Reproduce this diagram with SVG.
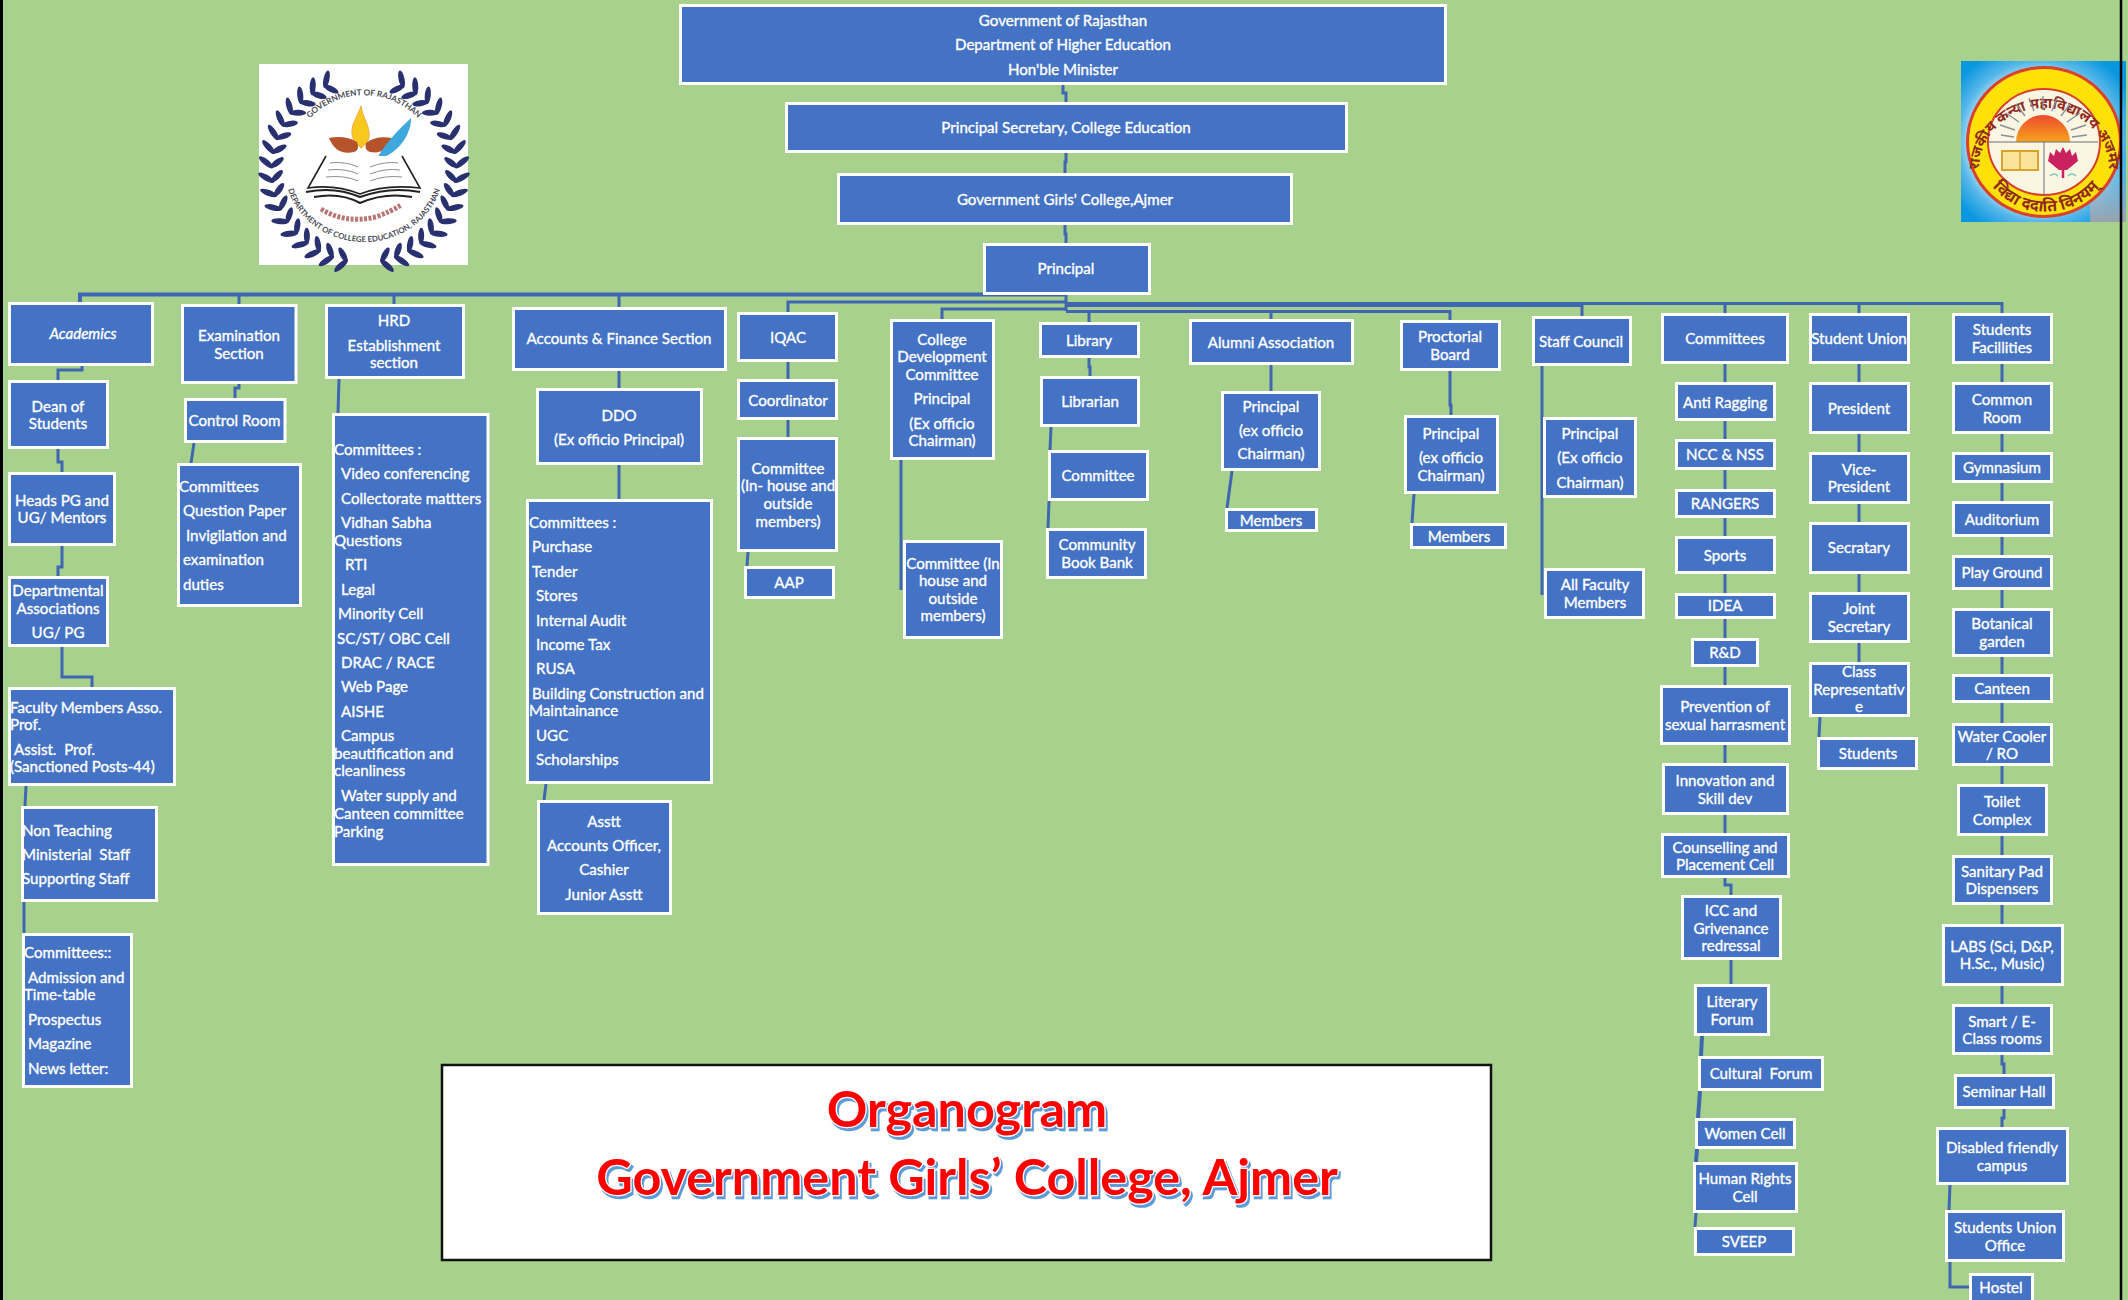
<svg xmlns="http://www.w3.org/2000/svg" width="2128" height="1300" viewBox="0 0 2128 1300">
<style>
.n rect{fill:#4472C4;stroke:#fff;stroke-width:3}
text{font-family:Lato,"Noto Sans","Liberation Sans",sans-serif}
.n text{fill:#fff;font-size:15.1px;stroke:#fff;stroke-width:.35;white-space:pre;transform:translateY(.6px)}
.c text{text-anchor:middle}
#connectors path{fill:none;stroke:#3F67B1;stroke-width:3}
.title{font-size:50.300px;font-weight:700;fill:#f00;stroke:#fff;stroke-width:2.5;paint-order:stroke;text-anchor:middle;filter:url(#sh)}
.hi{font-family:"Noto Sans","Noto Sans CJK SC",sans-serif;font-weight:700;fill:#8f2a1e}
</style>
<defs>
<filter id="sh" x="-5%" y="-20%" width="110%" height="140%"><feDropShadow dx="2" dy="3" stdDeviation="0.4" flood-color="#5B9BD5"/></filter>
<radialGradient id="sky" cx="48%" cy="50%" r="62%"><stop offset="0.62" stop-color="#DDF1FA"/><stop offset="0.8" stop-color="#57B7E9"/><stop offset="1" stop-color="#0A97E0"/></radialGradient>
<linearGradient id="sun" x1="0" y1="0" x2="0" y2="1"><stop offset="0" stop-color="#EE4A2E"/><stop offset="1" stop-color="#F7A31E"/></linearGradient>
<linearGradient id="cloud" x1="0" y1="0" x2="0" y2="1"><stop offset="0" stop-color="#D8DDE4" stop-opacity="0"/><stop offset="1" stop-color="#9AA2AE"/></linearGradient>
<g id="lf"><ellipse cx="-6" cy="-98" rx="9" ry="3" fill="#28306F" transform="rotate(52 -6 -98)"/><ellipse cx="-6" cy="-87" rx="8" ry="3" fill="#28306F" transform="rotate(-52 -6 -87)"/></g>
<g id="lg"><ellipse cx="6" cy="-98" rx="9" ry="3" fill="#28306F" transform="rotate(-52 6 -98)"/><ellipse cx="6" cy="-87" rx="8" ry="3" fill="#28306F" transform="rotate(52 6 -87)"/></g>
<path id="arcTop" d="M302 128A75 75 0 0 1 426 128"/>
<path id="arcBot" d="M285 170A79 72 0 0 0 443 170"/>
<path id="ringTop" d="M1979 170A65 62 0 1 1 2109 170"/>
<path id="ringBot" d="M1992 186A66 60 0 0 0 2100 186"/>
</defs>
<rect width="2128" height="1300" fill="#A9D18E"/>

<g id="logo-left">
<rect x="259" y="64" width="209" height="201" fill="#fff"/>
<g transform="translate(364 170)">
<use href="#lf" transform="rotate(26)"/><use href="#lf" transform="rotate(35)"/><use href="#lf" transform="rotate(44)"/><use href="#lf" transform="rotate(53)"/><use href="#lf" transform="rotate(62)"/><use href="#lf" transform="rotate(71)"/><use href="#lf" transform="rotate(80)"/><use href="#lf" transform="rotate(89)"/><use href="#lf" transform="rotate(98)"/><use href="#lf" transform="rotate(107)"/><use href="#lf" transform="rotate(116)"/><use href="#lf" transform="rotate(125)"/><use href="#lf" transform="rotate(134)"/><use href="#lf" transform="rotate(143)"/><use href="#lf" transform="rotate(152)"/><use href="#lf" transform="rotate(161)"/><use href="#lf" transform="rotate(170)"/>
<use href="#lg" transform="rotate(-26)"/><use href="#lg" transform="rotate(-35)"/><use href="#lg" transform="rotate(-44)"/><use href="#lg" transform="rotate(-53)"/><use href="#lg" transform="rotate(-62)"/><use href="#lg" transform="rotate(-71)"/><use href="#lg" transform="rotate(-80)"/><use href="#lg" transform="rotate(-89)"/><use href="#lg" transform="rotate(-98)"/><use href="#lg" transform="rotate(-107)"/><use href="#lg" transform="rotate(-116)"/><use href="#lg" transform="rotate(-125)"/><use href="#lg" transform="rotate(-134)"/><use href="#lg" transform="rotate(-143)"/><use href="#lg" transform="rotate(-152)"/><use href="#lg" transform="rotate(-161)"/><use href="#lg" transform="rotate(-170)"/>
</g>
<path d="M361 106C357 118 351 124 352 134C353 142 358 145 361 148C365 145 370 141 369 132C368 123 363 118 361 106Z" fill="#F7C91E" stroke="#F2A93B" stroke-width="1"/>
<path d="M329 138Q345 135 357 142Q360 150 354 152Q336 156 329 138Z" fill="#B5532A"/>
<path d="M392 138Q376 135 366 143Q364 150 370 152Q386 155 392 138Z" fill="#B5532A"/>
<path d="M411 118C398 130 384 145 376 160C385 158 400 150 407 135C410 128 411 124 411 118Z" fill="#3FA9DE"/>
<path d="M376 160L364 172" stroke="#3FA9DE" stroke-width="1.5" fill="none"/>
<path d="M326 156L308 188Q335 184 360 194Q385 184 420 188L402 156" fill="#fff" stroke="#222" stroke-width="1.6"/>
<path d="M306 192Q335 186 360 197Q390 186 420 192M314 197Q340 192 360 203Q385 192 412 197" fill="none" stroke="#222" stroke-width="2"/>
<path d="M330 163Q345 161 358 167M328 170Q345 168 358 174M326 177Q345 175 358 181M370 167Q385 161 398 163M370 174Q385 168 400 170M370 181Q385 175 402 177" fill="none" stroke="#8a8f95" stroke-width="1"/>
<text font-size="8.200" fill="#4a4a55" font-weight="700"><textPath href="#arcTop" startOffset="50%" text-anchor="middle">GOVERNMENT OF RAJASTHAN</textPath></text>
<text font-size="7.800" fill="#4a4a55" font-weight="700"><textPath href="#arcBot" startOffset="50%" text-anchor="middle">DEPARTMENT OF COLLEGE EDUCATION, RAJASTHAN</textPath></text>
<path d="M321 209Q345 224 376 217Q392 211 401 205" fill="none" stroke="#9a3a3a" stroke-width="5" stroke-dasharray="3 1.500" opacity=".7"/>
</g>

<g id="logo-right">
<rect x="1961" y="61" width="165" height="161" fill="url(#sky)"/>
<rect x="2090" y="160" width="36" height="62" fill="url(#cloud)"/>
<ellipse cx="2044" cy="142" rx="78" ry="76" fill="#D9412A"/>
<ellipse cx="2044" cy="142" rx="75" ry="73" fill="#FFE10A"/>
<ellipse cx="2044" cy="142" rx="56" ry="53" fill="#FBF6E2" stroke="#D9412A" stroke-width="2"/>
<text class="hi" font-size="14.500"><textPath href="#ringTop" startOffset="50%" text-anchor="middle">राजकीय कन्या महाविद्यालय अजमेर</textPath></text>
<text class="hi" font-size="16"><textPath href="#ringBot" startOffset="50%" text-anchor="middle">विद्या ददाति विनयम्</textPath></text>
<path d="M2016 142A27 27 0 0 1 2070 142Z" fill="url(#sun)"/>
<path d="M2043 110V96M2034 111L2029 98M2052 111L2057 98M2025 116L2016 104M2061 116L2070 104M2019 122L2006 113M2067 122L2080 113M2015 130L2000 125M2071 130L2086 125M2014 137L2001 135M2072 137L2087 135" fill="none" stroke="#8a8f9a" stroke-width="1.400"/>
<path d="M1989 142H2098M2044 142V195" fill="none" stroke="#6a6f7a" stroke-width="1"/>
<path d="M2002 151H2038V170H2002Z" fill="#FBE49A" stroke="#D9A32A" stroke-width="2"/><path d="M2020 151V170" stroke="#D9A32A" stroke-width="1.500"/>
<path d="M2059 170L2048 161L2050 152L2054 156L2056 149L2060 153L2063 147L2066 153L2070 149L2072 156L2076 152L2078 161L2067 170Z" fill="#C9205E"/>
<path d="M2063 170V178" stroke="#C9205E" stroke-width="2.500"/>
<path d="M2050 176Q2054 172 2058 176M2068 176Q2072 172 2076 176" fill="none" stroke="#7FC8C0" stroke-width="1.500"/>
</g>

<g id="connectors">
<path d="M1063 85V93H1066V102M1066 153V162H1065V173M1065 225V234H1066V243"/>
<path d="M1066 294.500H80V302" style="stroke-width:4"/>
<path d="M239 294.500V304M394 294.500V304M619 294.500V307"/>
<path d="M1066 295V311"/>
<path d="M1066 302H788V312"/>
<path d="M1066 309H942V319"/>
<path d="M1066 304.500H1582" style="stroke-width:5"/>
<path d="M1582 303.500H2002V313M1582 303V316M1725 303V313M1859 303V313"/>
<path d="M1066 311.500H1450V320M1089 311.500V322M1271 311.500V319"/>
<path d="M82 366V370H58V380M239 384V388H235V398M339 379L338 413M619 371V388M619 465V499"/>
<path d="M58 449V462H62V472M62 546V567H58V576M62 647V677H92V687M26 786L25 806M24 902V933M194 443L191 463M546 784L544 800"/>
<path d="M788 362V379M788 420V437M748 552L747 566M901 460V590"/>
<path d="M1089 358V367H1090V376M1051 427L1050 450M1049 501L1048 528M1271 365V391M1232 471L1227 508M1450 371V405H1451V415M1414 494L1412 523M1542 366V595"/>
<path d="M1725 364V382M1725 421V439M1725 470V489M1725 518V536M1725 574V593M1725 619V638M1725 667V685M1725 745V763M1725 815V833M1725 878V885H1731V895M1731 960V984"/>
<path d="M1702 1036L1701 1056M1700 1091L1698 1118M1697 1149L1696 1162" style="stroke-width:4"/>
<path d="M1696 1213L1695 1227"/>
<path d="M1859 364V382M1859 434V452M1859 504V522M1859 574V592M1859 643V662M1820 717L1819 737"/>
<path d="M2002 364V382M2002 434V452M2002 483V501M2002 537V555M2002 590V608M2002 657V674M2002 703V723M2002 766V784M2002 836V855M2002 905V924M2002 986V1004M2002 1055V1064H2004V1074M2004 1109V1118H2002V1127M1950 1185L1949 1210M1950 1262V1287H1969"/>
</g>

<g id="top" class="n c"><rect x="680.500" y="5.500" width="765" height="78"/><text x="1063" y="25">Government of Rajasthan</text><text x="1063" y="49">Department of Higher Education</text><text x="1063" y="74">Hon'ble Minister</text></g>
<g id="psec" class="n c"><rect x="786.500" y="103.500" width="560" height="48"/><text x="1066" y="132">Principal Secretary, College Education</text></g>
<g id="ggc" class="n c"><rect x="838.500" y="174.500" width="453" height="49"/><text x="1065" y="204">Government Girls' College,Ajmer</text></g>
<g id="principal" class="n c"><rect x="984.500" y="244.500" width="165" height="49"/><text x="1066" y="273">Principal</text></g>

<g id="academics" class="n c"><rect x="9.500" y="303.500" width="143" height="61"/><text x="83" y="338" font-style="italic">Academics</text></g>
<g id="exam" class="n c"><rect x="182.500" y="305.500" width="113.500" height="77"/><text><tspan x="239" y="340">Examination</tspan><tspan x="239" y="358">Section</tspan></text></g>
<g id="hrd" class="n c"><rect x="326.500" y="305.500" width="137" height="72"/><text><tspan x="394" y="325">HRD</tspan><tspan x="394" y="350">Establishment</tspan><tspan x="394" y="367">section</tspan></text></g>
<g id="accounts" class="n c"><rect x="513.500" y="308.500" width="212" height="61"/><text x="619" y="343">Accounts &amp; Finance Section</text></g>
<g id="iqac" class="n c"><rect x="738.500" y="313.500" width="98" height="47"/><text x="788" y="342">IQAC</text></g>
<g id="cdc" class="n c"><rect x="891.500" y="320.500" width="102" height="138"/><text><tspan x="942" y="344">College</tspan><tspan x="942" y="361">Development</tspan><tspan x="942" y="379">Committee</tspan><tspan x="942" y="403">Principal</tspan><tspan x="942" y="428">(Ex officio</tspan><tspan x="942" y="445">Chairman)</tspan></text></g>
<g id="library" class="n c"><rect x="1040.500" y="323.500" width="98" height="33"/><text x="1089" y="345">Library</text></g>
<g id="alumni" class="n c"><rect x="1190.500" y="320.500" width="162" height="43"/><text x="1271" y="347">Alumni Association</text></g>
<g id="proctorial" class="n c"><rect x="1401.500" y="321.500" width="98" height="48"/><text><tspan x="1450" y="341">Proctorial</tspan><tspan x="1450" y="359">Board</tspan></text></g>
<g id="staff" class="n c"><rect x="1533.500" y="317.500" width="97" height="47"/><text x="1581" y="346">Staff Council</text></g>
<g id="committees" class="n c"><rect x="1662.500" y="314.500" width="125" height="48"/><text x="1725" y="343">Committees</text></g>
<g id="union" class="n c"><rect x="1810.500" y="314.500" width="98" height="48"/><text x="1859" y="343">Student Union</text></g>
<g id="facilities" class="n c"><rect x="1953.500" y="314.500" width="98" height="48"/><text><tspan x="2002" y="334">Students</tspan><tspan x="2002" y="352">Facillities</tspan></text></g>

<g id="dean" class="n c"><rect x="9.500" y="381.500" width="98" height="66"/><text><tspan x="58" y="411">Dean of</tspan><tspan x="58" y="428">Students</tspan></text></g>
<g id="heads" class="n c"><rect x="9.500" y="473.500" width="105" height="71"/><text><tspan x="62" y="505">Heads PG and</tspan><tspan x="62" y="522">UG/ Mentors</tspan></text></g>
<g id="dept" class="n c"><rect x="9.500" y="577.500" width="98" height="68"/><text><tspan x="58" y="595">Departmental</tspan><tspan x="58" y="613">Associations</tspan><tspan x="58" y="637">UG/ PG</tspan></text></g>
<g id="faculty" class="n"><rect x="9.500" y="688.500" width="165" height="96"/><text><tspan x="10" y="712">Faculty Members Asso.</tspan><tspan x="10" y="729">Prof.</tspan><tspan x="14" y="754">Assist.  Prof.</tspan><tspan x="10" y="771">(Sanctioned Posts-44)</tspan></text></g>
<g id="nonteaching" class="n"><rect x="22.500" y="807.500" width="134" height="93"/><text><tspan x="22" y="835">Non Teaching</tspan><tspan x="22" y="859">Ministerial  Staff</tspan><tspan x="22" y="883">Supporting Staff</tspan></text></g>
<g id="acad-committees" class="n"><rect x="23.500" y="934.500" width="108" height="152"/><text><tspan x="24" y="957">Committees::</tspan><tspan x="28" y="982">Admission and</tspan><tspan x="24" y="999">Time-table</tspan><tspan x="28" y="1024">Prospectus</tspan><tspan x="28" y="1048">Magazine</tspan><tspan x="28" y="1073">News letter:</tspan></text></g>

<g id="control" class="n c"><rect x="185.500" y="399.500" width="99.500" height="42"/><text x="234.500" y="425">Control Room</text></g>
<g id="exam-committees" class="n"><rect x="178.500" y="464.500" width="122" height="141"/><text><tspan x="179" y="491">Committees</tspan><tspan x="183" y="515">Question Paper</tspan><tspan x="186" y="540">Invigilation and</tspan><tspan x="183" y="564">examination</tspan><tspan x="183" y="589">duties</tspan></text></g>

<g id="hrd-committees" class="n"><rect x="333.500" y="414.500" width="154.500" height="450"/><text><tspan x="334" y="454">Committees :</tspan><tspan x="341" y="478">Video conferencing</tspan><tspan x="341" y="503">Collectorate mattters</tspan><tspan x="341" y="527">Vidhan Sabha</tspan><tspan x="334" y="545">Questions</tspan><tspan x="345" y="569">RTI</tspan><tspan x="341" y="594">Legal</tspan><tspan x="338" y="618">Minority Cell</tspan><tspan x="337" y="643">SC/ST/ OBC Cell</tspan><tspan x="341" y="667">DRAC / RACE</tspan><tspan x="341" y="691">Web Page</tspan><tspan x="341" y="716">AISHE</tspan><tspan x="341" y="740">Campus</tspan><tspan x="334" y="758">beautification and</tspan><tspan x="334" y="775">cleanliness</tspan><tspan x="341" y="800">Water supply and</tspan><tspan x="334" y="818">Canteen committee</tspan><tspan x="334" y="836">Parking</tspan></text></g>

<g id="ddo" class="n c"><rect x="537.500" y="389.500" width="164" height="74"/><text><tspan x="619" y="420">DDO</tspan><tspan x="619" y="444">(Ex officio Principal)</tspan></text></g>
<g id="acc-committees" class="n"><rect x="527.500" y="500.500" width="184" height="282"/><text><tspan x="529" y="527">Committees :</tspan><tspan x="532" y="551">Purchase</tspan><tspan x="532" y="576">Tender</tspan><tspan x="536" y="600">Stores</tspan><tspan x="536" y="625">Internal Audit</tspan><tspan x="536" y="649">Income Tax</tspan><tspan x="536" y="673">RUSA</tspan><tspan x="532" y="698">Building Construction and</tspan><tspan x="529" y="715">Maintainance</tspan><tspan x="536" y="740">UGC</tspan><tspan x="536" y="764">Scholarships</tspan></text></g>
<g id="asstt" class="n c"><rect x="538.500" y="801.500" width="132" height="112"/><text><tspan x="604" y="826">Asstt</tspan><tspan x="604" y="850">Accounts Officer,</tspan><tspan x="604" y="874">Cashier</tspan><tspan x="604" y="899">Junior Asstt</tspan></text></g>

<g id="coordinator" class="n c"><rect x="738.500" y="380.500" width="98" height="38"/><text x="788" y="405">Coordinator</text></g>
<g id="iqac-committee" class="n c"><rect x="738.500" y="438.500" width="98" height="112"/><text><tspan x="788" y="473">Committee</tspan><tspan x="788" y="490">(In- house and</tspan><tspan x="788" y="508">outside</tspan><tspan x="788" y="526">members)</tspan></text></g>
<g id="aap" class="n c"><rect x="745.500" y="567.500" width="88" height="30"/><text x="789" y="587">AAP</text></g>
<g id="cdc-committee" class="n c"><rect x="904.500" y="541.500" width="97" height="96"/><text><tspan x="953" y="568">Committee (In</tspan><tspan x="953" y="585">house and</tspan><tspan x="953" y="603">outside</tspan><tspan x="953" y="620">members)</tspan></text></g>

<g id="librarian" class="n c"><rect x="1041.500" y="377.500" width="97" height="48"/><text x="1090" y="406">Librarian</text></g>
<g id="lib-committee" class="n c"><rect x="1049.500" y="451.500" width="98" height="48"/><text x="1098" y="480">Committee</text></g>
<g id="bookbank" class="n c"><rect x="1047.500" y="529.500" width="98" height="48"/><text><tspan x="1097" y="549">Community</tspan><tspan x="1097" y="567">Book Bank</tspan></text></g>
<g id="alumni-principal" class="n c"><rect x="1222.500" y="392.500" width="97" height="77"/><text><tspan x="1271" y="411">Principal</tspan><tspan x="1271" y="435">(ex officio</tspan><tspan x="1271" y="458">Chairman)</tspan></text></g>
<g id="alumni-members" class="n c"><rect x="1226.500" y="509.500" width="90" height="21"/><text x="1271" y="525">Members</text></g>
<g id="proc-principal" class="n c"><rect x="1405.500" y="416.500" width="92" height="76"/><text><tspan x="1451" y="438">Principal</tspan><tspan x="1451" y="462">(ex officio</tspan><tspan x="1451" y="480">Chairman)</tspan></text></g>
<g id="proc-members" class="n c"><rect x="1411.500" y="524.500" width="94" height="23"/><text x="1459" y="541">Members</text></g>
<g id="staff-principal" class="n c"><rect x="1544.500" y="418.500" width="91" height="78"/><text><tspan x="1590" y="438">Principal</tspan><tspan x="1590" y="462">(Ex officio</tspan><tspan x="1590" y="487">Chairman)</tspan></text></g>
<g id="all-faculty" class="n c"><rect x="1545.500" y="569.500" width="98" height="48"/><text><tspan x="1595" y="589">All Faculty</tspan><tspan x="1595" y="607">Members</tspan></text></g>

<g id="anti" class="n c"><rect x="1676.500" y="383.500" width="98" height="36"/><text x="1725" y="407">Anti Ragging</text></g>
<g id="ncc" class="n c"><rect x="1676.500" y="440.500" width="98" height="28"/><text x="1725" y="459">NCC &amp; NSS</text></g>
<g id="rangers" class="n c"><rect x="1676.500" y="490.500" width="98" height="26"/><text x="1725" y="508">RANGERS</text></g>
<g id="sports" class="n c"><rect x="1676.500" y="537.500" width="98" height="35"/><text x="1725" y="560">Sports</text></g>
<g id="idea" class="n c"><rect x="1676.500" y="594.500" width="98" height="23"/><text x="1725" y="610">IDEA</text></g>
<g id="rd" class="n c"><rect x="1692.500" y="639.500" width="65" height="26"/><text x="1725" y="657">R&amp;D</text></g>
<g id="prevention" class="n c"><rect x="1661.500" y="686.500" width="128" height="57"/><text><tspan x="1725" y="711">Prevention of</tspan><tspan x="1725" y="729">sexual harrasment</tspan></text></g>
<g id="innovation" class="n c"><rect x="1663.500" y="764.500" width="124" height="49"/><text><tspan x="1725" y="785">Innovation and</tspan><tspan x="1725" y="803">Skill dev</tspan></text></g>
<g id="counselling" class="n c"><rect x="1662.500" y="834.500" width="126" height="42"/><text><tspan x="1725" y="852">Counselling and</tspan><tspan x="1725" y="869">Placement Cell</tspan></text></g>
<g id="icc" class="n c"><rect x="1682.500" y="896.500" width="98" height="62"/><text><tspan x="1731" y="915">ICC and</tspan><tspan x="1731" y="933">Grivenance</tspan><tspan x="1731" y="950">redressal</tspan></text></g>
<g id="literary" class="n c"><rect x="1695.500" y="985.500" width="73" height="49"/><text><tspan x="1732" y="1006">Literary</tspan><tspan x="1732" y="1024">Forum</tspan></text></g>
<g id="cultural" class="n c"><rect x="1699.500" y="1057.500" width="123" height="32"/><text x="1761" y="1078">Cultural  Forum</text></g>
<g id="women" class="n c"><rect x="1696.500" y="1119.500" width="98" height="28"/><text x="1745" y="1138">Women Cell</text></g>
<g id="human" class="n c"><rect x="1694.500" y="1163.500" width="102" height="48"/><text><tspan x="1745" y="1183">Human Rights</tspan><tspan x="1745" y="1201">Cell</tspan></text></g>
<g id="sveep" class="n c"><rect x="1695.500" y="1228.500" width="98" height="26"/><text x="1744" y="1246">SVEEP</text></g>

<g id="president" class="n c"><rect x="1810.500" y="383.500" width="98" height="49"/><text x="1859" y="413">President</text></g>
<g id="vice" class="n c"><rect x="1810.500" y="453.500" width="98" height="49"/><text><tspan x="1859" y="474">Vice-</tspan><tspan x="1859" y="491">President</tspan></text></g>
<g id="secratary" class="n c"><rect x="1810.500" y="523.500" width="98" height="49"/><text x="1859" y="552">Secratary</text></g>
<g id="joint" class="n c"><rect x="1810.500" y="593.500" width="98" height="48"/><text><tspan x="1859" y="613">Joint</tspan><tspan x="1859" y="631">Secretary</tspan></text></g>
<g id="class" class="n c"><rect x="1810.500" y="663.500" width="98" height="52"/><text><tspan x="1859" y="676">Class</tspan><tspan x="1859" y="694">Representativ</tspan><tspan x="1859" y="711">e</tspan></text></g>
<g id="students" class="n c"><rect x="1818.500" y="738.500" width="98" height="30"/><text x="1868" y="758">Students</text></g>

<g id="common" class="n c"><rect x="1953.500" y="383.500" width="98" height="49"/><text><tspan x="2002" y="404">Common</tspan><tspan x="2002" y="422">Room</tspan></text></g>
<g id="gym" class="n c"><rect x="1953.500" y="453.500" width="98" height="28"/><text x="2002" y="472">Gymnasium</text></g>
<g id="auditorium" class="n c"><rect x="1953.500" y="502.500" width="98" height="33"/><text x="2002" y="524">Auditorium</text></g>
<g id="play" class="n c"><rect x="1953.500" y="556.500" width="98" height="32"/><text x="2002" y="577">Play Ground</text></g>
<g id="botanical" class="n c"><rect x="1953.500" y="609.500" width="98" height="46"/><text><tspan x="2002" y="628">Botanical</tspan><tspan x="2002" y="646">garden</tspan></text></g>
<g id="canteen" class="n c"><rect x="1953.500" y="675.500" width="98" height="26"/><text x="2002" y="693">Canteen</text></g>
<g id="water" class="n c"><rect x="1953.500" y="724.500" width="98" height="40"/><text><tspan x="2002" y="741">Water Cooler</tspan><tspan x="2002" y="758">/ RO</tspan></text></g>
<g id="toilet" class="n c"><rect x="1958.500" y="785.500" width="88" height="49"/><text><tspan x="2002" y="806">Toilet</tspan><tspan x="2002" y="824">Complex</tspan></text></g>
<g id="sanitary" class="n c"><rect x="1953.500" y="856.500" width="98" height="47"/><text><tspan x="2002" y="876">Sanitary Pad</tspan><tspan x="2002" y="893">Dispensers</tspan></text></g>
<g id="labs" class="n c"><rect x="1943.500" y="925.500" width="119" height="59"/><text><tspan x="2002" y="951">LABS (Sci, D&amp;P,</tspan><tspan x="2002" y="968">H.Sc., Music)</tspan></text></g>
<g id="smart" class="n c"><rect x="1953.500" y="1005.500" width="98" height="48"/><text><tspan x="2002" y="1026">Smart / E-</tspan><tspan x="2002" y="1043">Class rooms</tspan></text></g>
<g id="seminar" class="n c"><rect x="1955.500" y="1075.500" width="98" height="32"/><text x="2004" y="1096">Seminar Hall</text></g>
<g id="disabled" class="n c"><rect x="1937.500" y="1128.500" width="130" height="55"/><text><tspan x="2002" y="1152">Disabled friendly</tspan><tspan x="2002" y="1170">campus</tspan></text></g>
<g id="suo" class="n c"><rect x="1946.500" y="1211.500" width="117" height="49"/><text><tspan x="2005" y="1232">Students Union</tspan><tspan x="2005" y="1250">Office</tspan></text></g>
<g id="hostel" class="n c"><rect x="1970.500" y="1274.500" width="62" height="30"/><text x="2001" y="1292">Hostel</text></g>

<g id="title-box"><rect x="442" y="1065" width="1049" height="195" fill="#fff" stroke="#111" stroke-width="2.500"/>
<text class="title" x="967" y="1127">Organogram</text><text class="title" x="967" y="1195">Government Girls’ College, Ajmer</text></g>
<path d="M1.500 0V1300" stroke="#000" stroke-width="3"/>
<path d="M2121 0V1300" stroke="#000" stroke-width="2.500"/>
</svg>
